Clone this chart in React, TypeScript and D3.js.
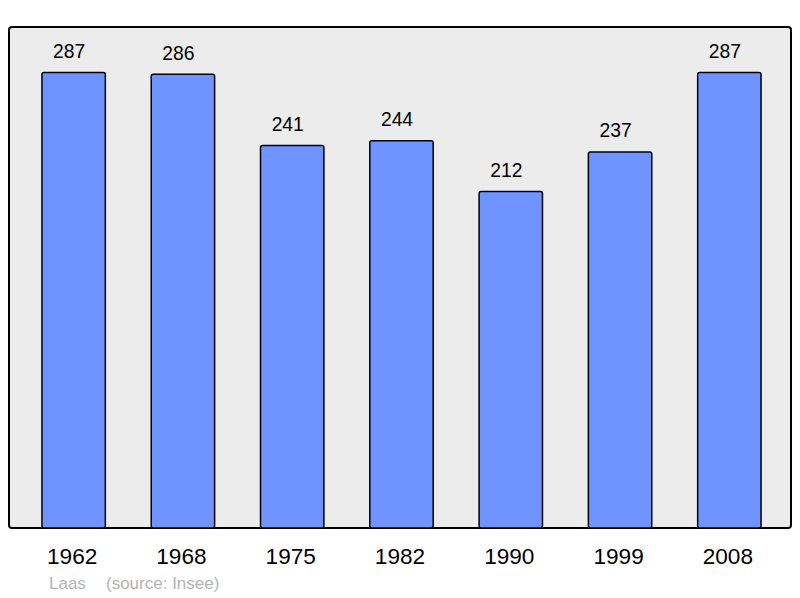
import React from "react";
import * as d3 from "d3";

const years = ["1962", "1968", "1975", "1982", "1990", "1999", "2008"];
const population = [287, 286, 241, 244, 212, 237, 287];
const commune = "Laas";
const sourceText = "(source: Insee)";

export default function App() {
  const W = 800, H = 598;
  const frame = { x0: 9, y0: 27, x1: 791, y1: 528 };
  const x = d3.scaleBand<string>().domain(years).range([19, 784]).paddingInner(0.42).paddingOuter(0.21);
  const y = d3.scaleLinear().domain([0, (d3.max(population) as number) * 1.1]).range([frame.y1, frame.y0]);
  const font = "'Liberation Sans', Arial, sans-serif";
  return (
    <svg width={W} height={H} style={{ position: "absolute", left: 0, top: 0 }}>
      <rect x={frame.x0} y={frame.y0} width={frame.x1 - frame.x0} height={frame.y1 - frame.y0} rx={3} fill="#ececec" stroke="#000" strokeWidth={2} />
      {years.map((yr, i) => {
        const bx = x(yr) as number;
        const cx = bx + x.bandwidth() / 2;
        const top = y(population[i]);
        return (
          <g key={yr}>
            <rect x={bx} y={top} width={x.bandwidth()} height={frame.y1 - top} rx={2} fill="#7094ff" stroke="#000" strokeWidth={1.5} />
            <text x={cx - 4.5} y={top - 14.5} textAnchor="middle" fontFamily={font} fontSize={19.3} fill="#000">{population[i]}</text>
            <text x={cx - 1.5} y={564.3} textAnchor="middle" fontFamily={font} fontSize={22.6} fill="#000">{yr}</text>
          </g>
        );
      })}
      <text x={49} y={589} fontFamily={font} fontSize={17} fill="#b4b4b4">{commune}</text>
      <text x={106} y={589} fontFamily={font} fontSize={17} fill="#b4b4b4">{sourceText}</text>
    </svg>
  );
}
